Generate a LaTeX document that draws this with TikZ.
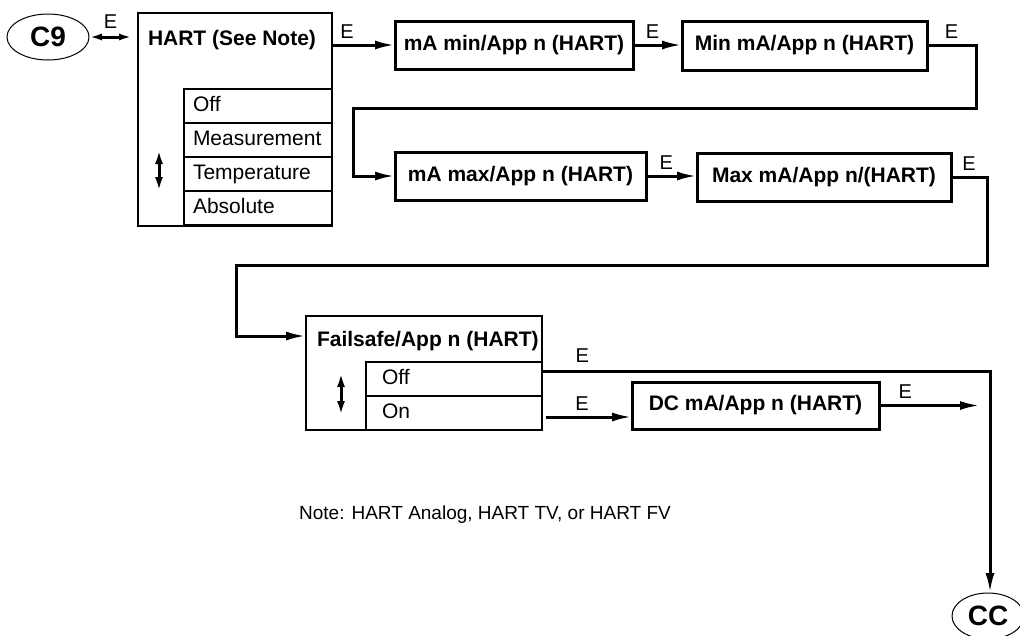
\documentclass[tikz,border=0pt]{standalone}
\usepackage{fontspec}
\setmainfont{Liberation Sans}
\usetikzlibrary{positioning, arrows.meta, shapes.geometric}

\begin{document}
\begin{tikzpicture}[
    x=1pt, y=-1pt,
    every node/.style={font=\fontsize{21}{25}\selectfont, outer sep=0pt},
    stepbox/.style={
        rectangle,
        draw=black,
        line width=3pt,
        align=center,
        inner sep=0pt,
        font=\fontsize{21}{25}\selectfont\bfseries
    },
    menubox/.style={
        rectangle,
        draw=black,
        line width=2pt,
        inner sep=0pt
    },
    menutitle/.style={
        anchor=west,
        inner sep=0pt,
        font=\fontsize{21}{25}\selectfont\bfseries
    },
    optrow/.style={
        rectangle,
        draw=black,
        line width=2pt,
        minimum height=34pt,
        inner ysep=0pt,
        text height=15pt,
        text depth=4pt,
        align=left
    },
    hartrow/.style={optrow, text width=130pt, inner xsep=9pt},
    fsrow/.style={optrow, text width=144pt, inner xsep=16pt},
    term/.style={
        ellipse,
        draw=black,
        line width=1pt,
        minimum width=82pt,
        minimum height=46pt,
        inner sep=0pt,
        font=\fontsize{28}{30}\selectfont\bfseries
    },
    elabel/.style={above=7pt, inner sep=0pt, font=\fontsize{20}{22}\selectfont},
    link/.style={-{Latex[length=20pt,width=9pt]}, line width=3pt},
    updown/.style={{Latex[length=14pt,width=8pt]}-{Latex[length=14pt,width=8pt]}, line width=3pt}
]

\useasboundingbox (0,0) rectangle (1020,635);

\node[term] (c9) at (48,37) {C9};

\node[menubox, minimum width=194pt, minimum height=213pt] (hart) at (235,119.5) {};
\node[menutitle] (harttitle) at (148,40) {HART (See Note)};
\node[hartrow, anchor=north east] (hoff) at (332,89) {Off};
\node[hartrow, below=0pt of hoff] (hmeas) {Measurement};
\node[hartrow, below=0pt of hmeas] (htemp) {Temperature};
\node[hartrow, below=0pt of htemp] (habs) {Absolute};
\draw[updown] (159,150) -- (159,191);

\node[stepbox, minimum width=238pt, minimum height=48pt] (mamin) at (514,45) {mA min/App n (HART)};
\node[stepbox, minimum width=245pt, minimum height=49pt] (minma) at (804.5,45.5) {Min mA/App n (HART)};
\node[stepbox, minimum width=251pt, minimum height=48pt] (mamax) at (520.5,176) {mA max/App n (HART)};
\node[stepbox, minimum width=254pt, minimum height=48pt] (maxma) at (824,177) {Max mA/App n/(HART)};

\node[menubox, minimum width=236pt, minimum height=114pt] (fs) at (424,373) {};
\node[menutitle] (fstitle) at (317,341) {Failsafe/App n (HART)};
\node[fsrow, anchor=north east] (fsoff) at (542,362) {Off};
\node[fsrow, below=0pt of fsoff] (fson) {On};
\draw[updown] (341,373) -- (341,415);

\node[stepbox, minimum width=247pt, minimum height=47pt] (dc) at (755.5,405.5) {DC mA/App n (HART)};

\node[font=\fontsize{19}{23}\selectfont] (note) at (485,515) {Note: HART Analog, HART TV, or HART FV};

\node[term, minimum width=72pt] (cc) at (988,616) {CC};

\coordinate (bendA) at (976,108);
\coordinate (bendB) at (353,108);
\coordinate (bendC) at (987,265);
\coordinate (bendD) at (236,265);
\coordinate (offturn) at (990,371);
\coordinate (dcend) at (980,410);
\coordinate (c9end) at ([xshift=-6pt]hart.west |- c9.east);
\coordinate (onstart) at ([xshift=4pt,yshift=-4pt]fson.east);

\draw[line width=3pt, {Latex[length=13pt,width=7pt]}-{Latex[length=13pt,width=7pt]}] (c9.east) -- node[elabel, above=9pt]{E} (c9end);
\draw[link] (hart.east |- mamin.west) -- node[elabel, pos=0.24]{E} (mamin.west);
\draw[link] (mamin.east) -- node[elabel, pos=0.4]{E} (mamin.east -| minma.west);
\draw[link] (minma.east) -| node[elabel, pos=0.25]{E} (bendA) -- (bendB) |- (mamax.west);
\draw[link] (mamax.east) -- node[elabel, pos=0.4]{E} (mamax.east -| maxma.west);
\draw[link] (maxma.east) -| node[elabel, pos=0.25]{E} (bendC) -- (bendD) |- ([yshift=-20pt]fs.north west);
\draw[link] ([yshift=-9pt]fsoff.north east) -- node[elabel, pos=0.09, above=9pt]{E} (offturn) -- (offturn |- cc.north);
\draw[link] (onstart) -- node[elabel, pos=0.42]{E} (onstart -| dc.west);
\draw[link] (dc.east) -- node[elabel, pos=0.26]{E} (dc.east -| dcend);

\end{tikzpicture}
\end{document}
